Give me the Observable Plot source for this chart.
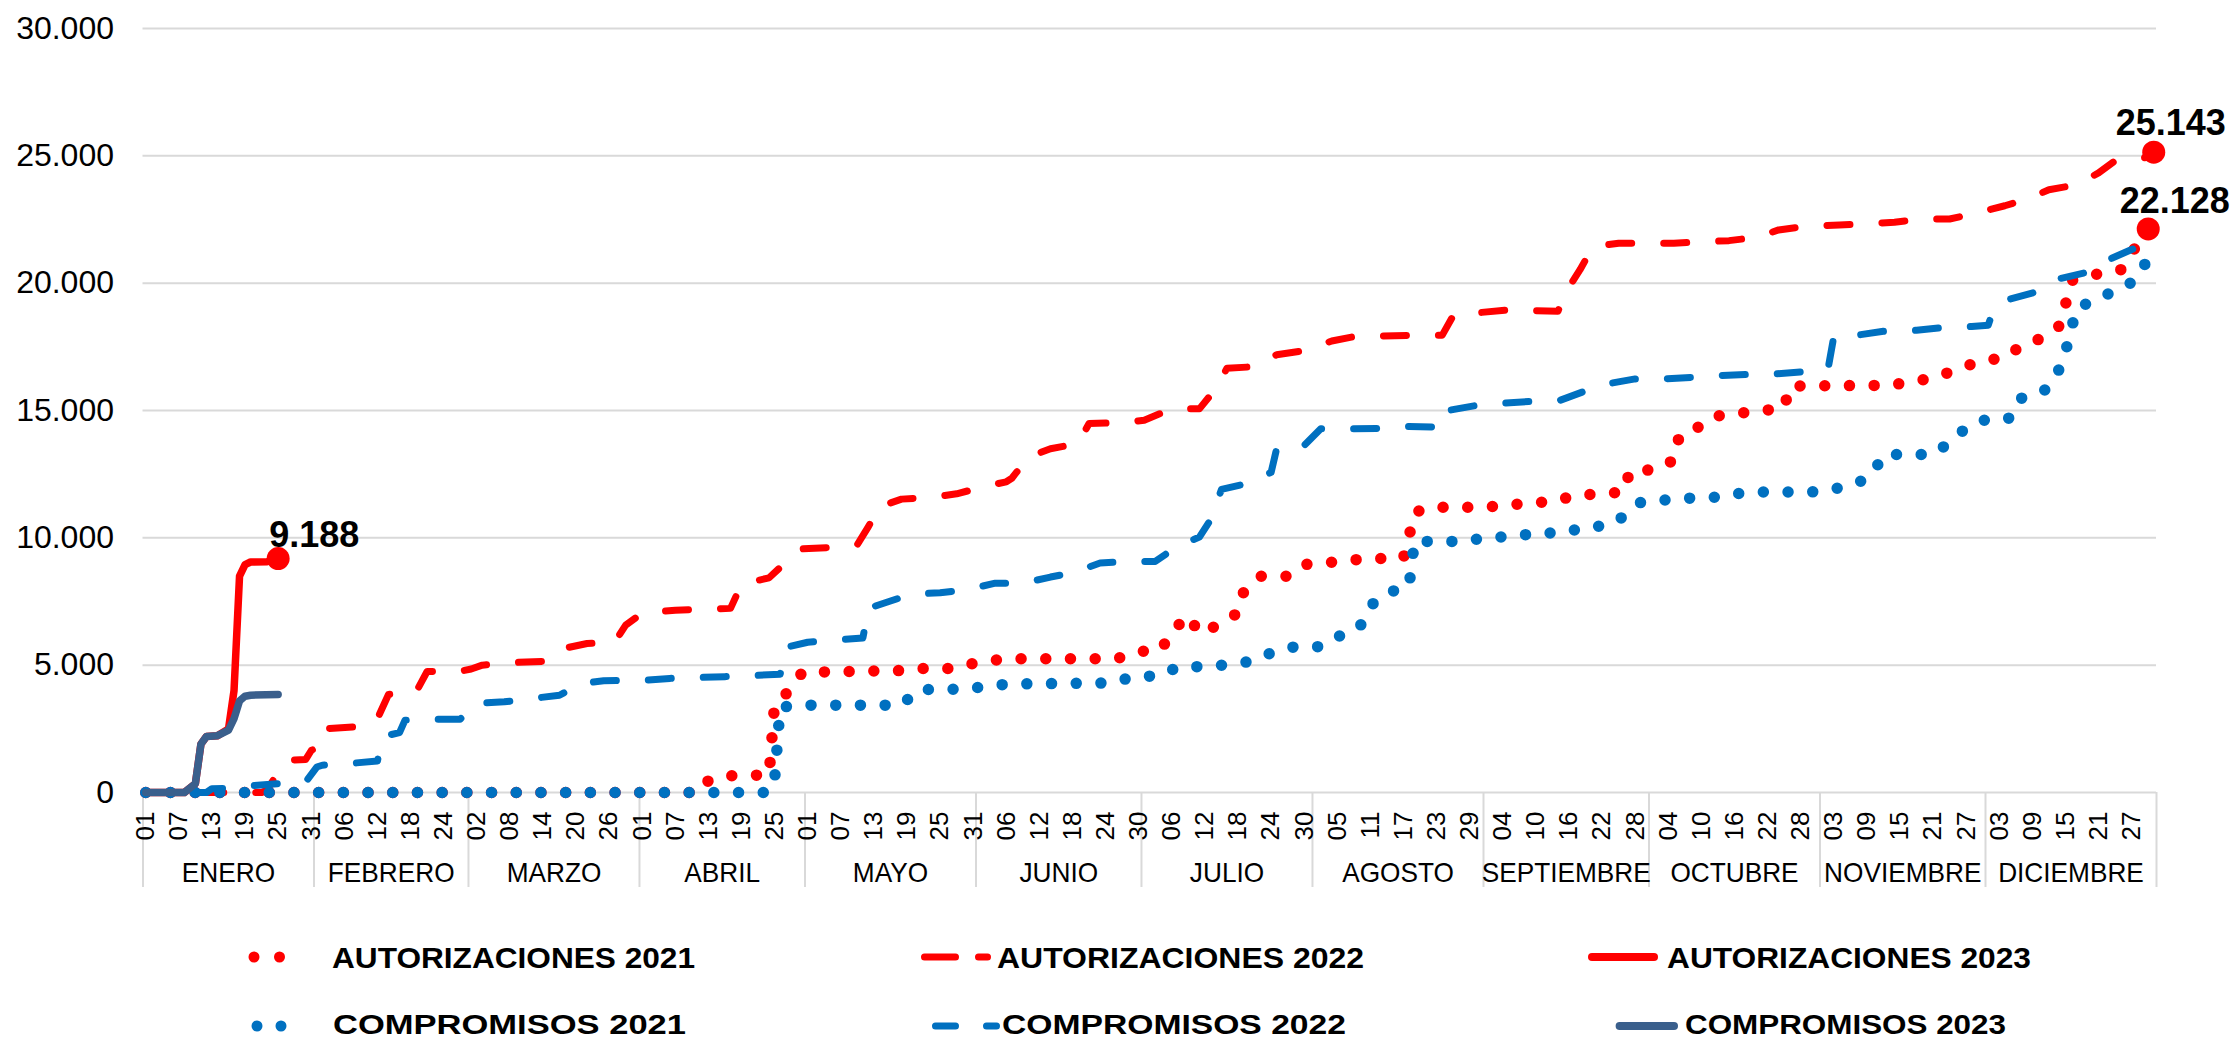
<!DOCTYPE html>
<html>
<head>
<meta charset="utf-8">
<script src="https://cdn.jsdelivr.net/npm/d3@7"></script>
<script src="https://cdn.jsdelivr.net/npm/@observablehq/plot@0.6"></script>
<style>
  html, body { margin: 0; padding: 0; background: #fff; }
  #chart { width: 2234px; height: 1040px; position: relative; overflow: hidden;
           font-family: "Liberation Sans", Arial, sans-serif; }
  svg { display: block; }
</style>
</head>
<body>
<div id="chart"></div>
<script>
// ---------------- DATA ----------------
const months = ["ENERO","FEBRERO","MARZO","ABRIL","MAYO","JUNIO","JULIO","AGOSTO","SEPTIEMBRE","OCTUBRE","NOVIEMBRE","DICIEMBRE"];
const monthLengths = [31,28,31,30,31,30,31,31,30,31,30,31];
const dayTickLabels = ["01","07","13","19","25","31","06","12","18","24","02","08","14","20","26",
  "01","07","13","19","25","01","07","13","19","25","31","06","12","18","24","30",
  "06","12","18","24","30","05","11","17","23","29","04","10","16","22","28",
  "04","10","16","22","28","03","09","15","21","27","03","09","15","21","27"];
const yTicks = [0,5000,10000,15000,20000,25000,30000];

// [day of year index (0 = 1 Jan), cumulative value]
const aut2021 = [[0,0],[100,0],[101,380],[105,660],[109,660],[113,710],[114,3500],[117,4040],[119,4720],[137,4790],[141,4870],[146,4870],[149,5030],[154,5200],[158,5250],[176,5250],[180,5540],[184,5580],[186,6320],[189,6950],[191,6240],[195,6630],[198,7060],[199,7860],[202,8490],[207,8490],[210,8950],[215,9040],[219,9140],[223,9180],[228,9215],[229,10050],[230,11000],[233,11200],[242,11200],[247,11270],[251,11390],[255,11400],[259,11670],[264,11730],[268,11800],[269,12620],[274,12680],[277,13060],[278,14010],[281,14280],[284,14760],[288,14870],[293,15000],[297,15080],[298,15960],[316,15990],[321,16150],[325,16340],[329,16680],[333,16960],[337,17060],[340,17550],[344,17860],[347,18340],[348,19150],[349,20100],[354,20370],[358,20520],[360,21190],[363,22128]];
const aut2022 = [[0,0],[21,0],[22,100],[23,450],[24,800],[25,1150],[26,1270],[29,1300],[30,1650],[31,1750],[32,2500],[38,2580],[41,2700],[42,2900],[44,3850],[49,3950],[51,4750],[57,4760],[59,4850],[61,5000],[66,5100],[72,5150],[75,5620],[80,5850],[85,5900],[87,6570],[90,7050],[96,7160],[106,7230],[108,8180],[113,8430],[116,9040],[119,9570],[124,9620],[129,9735],[131,10440],[133,11220],[137,11520],[143,11600],[147,11730],[152,12010],[156,12200],[157,12340],[160,13170],[164,13500],[169,13700],[171,14490],[177,14520],[181,14620],[186,15065],[191,15065],[194,15860],[196,16660],[201,16720],[205,17190],[210,17350],[215,17730],[219,17900],[229,17950],[235,17950],[237,18720],[242,18850],[247,18945],[256,18900],[258,19850],[260,20530],[262,21300],[263,21450],[267,21570],[277,21570],[287,21670],[292,21800],[296,22090],[301,22240],[307,22280],[317,22390],[322,22520],[327,22520],[331,22710],[337,23040],[341,23290],[345,23670],[350,23860],[354,24330],[357,24810],[363,24940],[364,25143]];
const aut2023 = [[0,0],[7,0],[9,350],[10,1900],[11,2200],[13,2230],[15,2500],[16,4000],[17,8500],[18,8950],[19,9050],[22,9060],[24,9188]];
const comp2021 = [[0,0],[113,0],[114,500],[115,3350],[119,3430],[137,3430],[140,4040],[149,4060],[153,4200],[157,4260],[175,4300],[179,4540],[184,4590],[187,4920],[192,4950],[196,5010],[200,5140],[204,5480],[208,5710],[213,5730],[216,6110],[220,6470],[222,7330],[225,7860],[228,8000],[229,8100],[230,9860],[239,9860],[243,10010],[248,10050],[252,10190],[257,10190],[261,10430],[265,10470],[268,10850],[271,11390],[275,11480],[280,11560],[284,11580],[288,11730],[293,11800],[302,11800],[306,11920],[310,12110],[313,12490],[315,13270],[324,13270],[327,13750],[330,14320],[334,14680],[338,14700],[340,15480],[344,15750],[346,16200],[347,16700],[348,17300],[349,18150],[350,19000],[354,19420],[358,19780],[361,20160],[363,21000],[364,21250]];
const comp2022 = [[0,0],[11,0],[12,150],[14,160],[18,200],[19,260],[24,350],[29,420],[31,1000],[32,1070],[37,1140],[42,1240],[43,2200],[46,2350],[47,2840],[52,2880],[57,2880],[60,3500],[65,3560],[70,3690],[75,3820],[79,4280],[83,4390],[90,4400],[95,4480],[105,4550],[115,4640],[116,5700],[120,5900],[125,5990],[130,6070],[131,7230],[135,7520],[139,7800],[144,7840],[149,7970],[154,8220],[159,8220],[164,8460],[168,8630],[173,9010],[178,9075],[183,9075],[187,9670],[191,10030],[193,10700],[195,11900],[199,12100],[204,12570],[205,13500],[210,13630],[213,14280],[219,14280],[224,14300],[229,14375],[235,14340],[236,15000],[241,15190],[246,15290],[252,15370],[256,15370],[261,15770],[265,16050],[270,16240],[275,16240],[280,16300],[285,16370],[290,16410],[295,16430],[301,16530],[305,16680],[306,17900],[310,17950],[315,18110],[321,18150],[326,18260],[331,18300],[334,18350],[335,19000],[338,19380],[343,19670],[347,20180],[352,20430],[356,20940],[360,21320],[364,21700]];
const comp2023 = [[0,0],[7,0],[9,350],[10,1900],[11,2200],[13,2230],[15,2450],[16,2900],[17,3600],[18,3780],[19,3820],[24,3850]];

const seriesNames = ["AUTORIZACIONES 2021","AUTORIZACIONES 2022","AUTORIZACIONES 2023","COMPROMISOS 2021","COMPROMISOS 2022","COMPROMISOS 2023"];
const seriesValues = [aut2021, aut2022, aut2023, comp2021, comp2022, comp2023];

const endSeries = ["AUTORIZACIONES 2023","AUTORIZACIONES 2022","AUTORIZACIONES 2021"];
const endDays = [24, 364, 363];
const endValues = [9188, 25143, 22128];
const endTexts = ["9.188", "25.143", "22.128"];

// ---------------- STYLES ----------------
const RED = "#FF0000", BLUE = "#0070C0", NAVY = "#3A5F8C", GRID = "#D9D9D9";
const seriesStyle = {
  "AUTORIZACIONES 2021": {stroke: RED, strokeWidth: 11.5, strokeDasharray: "0 24.7"},
  "AUTORIZACIONES 2022": {stroke: RED, strokeWidth: 7, strokeDasharray: "23 32"},
  "AUTORIZACIONES 2023": {stroke: RED, strokeWidth: 7.5},
  "COMPROMISOS 2021": {stroke: BLUE, strokeWidth: 11.5, strokeDasharray: "0 24.7"},
  "COMPROMISOS 2022": {stroke: BLUE, strokeWidth: 7, strokeDasharray: "23 32"},
  "COMPROMISOS 2023": {stroke: NAVY, strokeWidth: 7.5}
};
const labelOffsets = {
  "AUTORIZACIONES 2023": [-9, -12],
  "AUTORIZACIONES 2022": [-38, -17],
  "AUTORIZACIONES 2021": [-28.6, -16]
};

// ---------------- DERIVED TABLES ----------------
const monthStarts = Array.from(d3.cumsum([0, ...monthLengths]));
const monthCenters = months.map((name, i) => ({name, x: (monthStarts[i] + monthStarts[i + 1] - 1) / 2}));
const boundaries = monthStarts.map(s => s - 0.5);
const dayTicks = dayTickLabels.map((label, i) => ({x: i * 6, label}));
const ends = endSeries.map((s, i) => ({series: s, day: endDays[i], value: endValues[i], text: endTexts[i]}));
const fmt = v => v === 0 ? "0" : d3.format(",")(v).replace(/,/g, ".");

const W = 2234, H = 905;
const lineMarks = seriesNames.map((name, i) =>
  Plot.line(seriesValues[i], {
    x: d => d[0], y: d => d[1],
    ...seriesStyle[name],
    strokeLinecap: "round", strokeLinejoin: "round"
  })
);
const labelMarks = ends.map(e =>
  Plot.text([e], {
    x: "day", y: "value", text: "text",
    textAnchor: "start", lineAnchor: "bottom",
    dx: labelOffsets[e.series][0], dy: labelOffsets[e.series][1],
    fontSize: 36, fontWeight: "bold", fill: "#000"
  })
);

const plot = Plot.plot({
  width: W, height: H,
  marginLeft: 142.5, marginRight: 78, marginTop: 28, marginBottom: 113,
  style: {fontFamily: '"Liberation Sans", Arial, sans-serif', background: "#fff", overflow: "visible"},
  x: {type: "linear", domain: [-0.5, 364.5], axis: null},
  y: {type: "linear", domain: [0, 30000], axis: null},
  marks: [
    Plot.gridY(yTicks, {stroke: GRID, strokeOpacity: 1, strokeWidth: 2}),
    Plot.axisY(yTicks, {tickSize: 0, tickPadding: 29, tickFormat: fmt, fontSize: 32, color: "#000", label: null}),
    Plot.ruleX(boundaries, {x: d => d, stroke: GRID, strokeWidth: 2, insetTop: 764, insetBottom: -95}),
    Plot.text(dayTicks, {x: "x", text: "label", frameAnchor: "bottom", rotate: -90,
      textAnchor: "end", lineAnchor: "middle", dy: 19, fontSize: 26, fill: "#000"}),
    Plot.text(monthCenters, {x: "x", text: "name", frameAnchor: "bottom", lineAnchor: "bottom",
      dy: 89.7, fontSize: 28.5, fill: "#000", className: "month-label"}),
    ...lineMarks,
    Plot.dot(ends, {x: "day", y: "value", r: 11.5, fill: RED, stroke: "none"}),
    ...labelMarks
  ]
});

const chart = document.getElementById("chart");
chart.appendChild(plot);

// slightly condensed month labels
plot.querySelectorAll("g.month-label text").forEach(t => {
  const L = t.getComputedTextLength();
  t.setAttribute("textLength", (L * 0.92).toFixed(1));
  t.setAttribute("lengthAdjust", "spacingAndGlyphs");
});

// ---------------- LEGEND (below the plot) ----------------
const legendLayout = [
  {x1: 254,    x2: 305,   cy: 52,  tx: 332,  tw: 363, base: 63,  fs: 30, dash: "0 25.5", sw: 11},
  {x1: 924.5,  x2: 987.5, cy: 52,  tx: 997,  tw: 367, base: 63,  fs: 30, dash: "31 23", sw: 7},
  {x1: 1592,   x2: 1654,  cy: 52,  tx: 1667, tw: 364, base: 63,  fs: 30, dash: null, sw: 8},
  {x1: 257,    x2: 305,   cy: 121, tx: 333,  tw: 353, base: 128.5, fs: 27, dash: "0 24", sw: 11},
  {x1: 935.5,  x2: 996.5, cy: 121, tx: 1002, tw: 344, base: 128.5, fs: 27, dash: "20 31", sw: 7},
  {x1: 1619.6, x2: 1674,  cy: 121, tx: 1685, tw: 321, base: 128.5, fs: 27, dash: null, sw: 8}
];
const legend = d3.select(chart).append("svg")
  .attr("width", W).attr("height", 1040 - H)
  .style("font-family", '"Liberation Sans", Arial, sans-serif');
seriesNames.forEach((name, i) => {
  const L = legendLayout[i], st = seriesStyle[name];
  legend.append("line")
    .attr("x1", L.x1).attr("x2", L.x2).attr("y1", L.cy).attr("y2", L.cy)
    .attr("stroke", st.stroke).attr("stroke-width", L.sw)
    .attr("stroke-linecap", "round")
    .attr("stroke-dasharray", L.dash);
  legend.append("text")
    .attr("x", L.tx).attr("y", L.base)
    .attr("font-size", L.fs).attr("font-weight", "bold").attr("fill", "#000")
    .attr("textLength", L.tw).attr("lengthAdjust", "spacingAndGlyphs")
    .text(name);
});
</script>
</body>
</html>
